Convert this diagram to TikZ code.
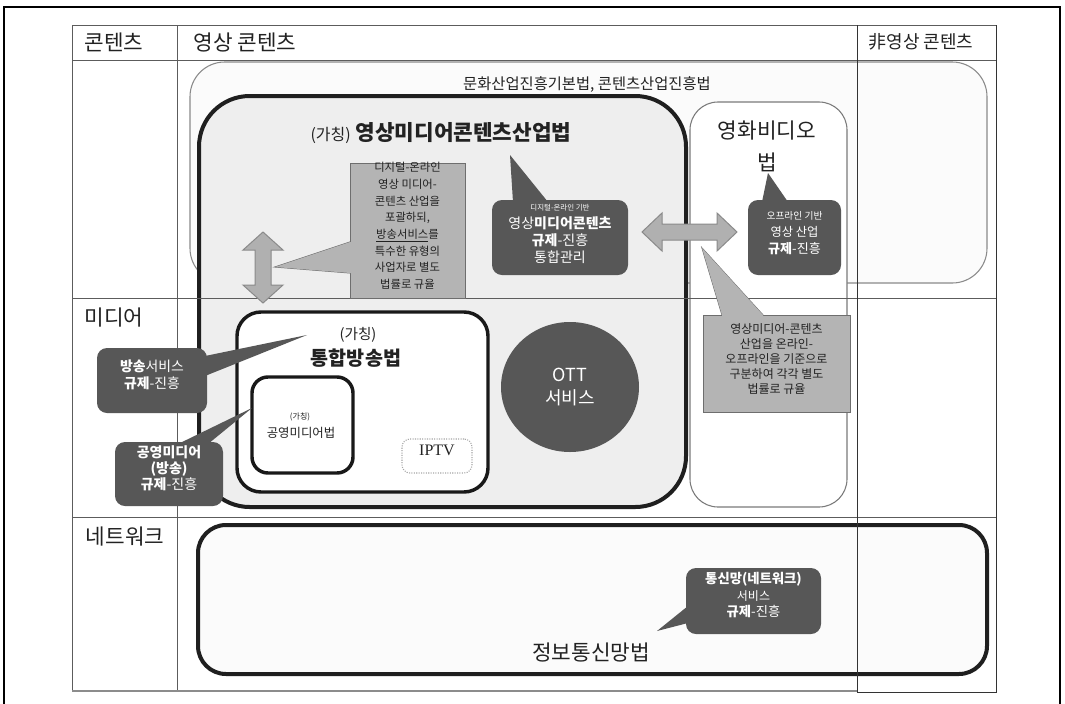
\documentclass[tikz,border=0pt]{standalone}
\usepackage{fontspec}
\setmainfont{Noto Sans CJK KR}
\newfontfamily\serifx{Liberation Serif}
\usetikzlibrary{fit,shapes.geometric}
\newcommand{\fsz}[2]{\fontsize{#1}{#2}\selectfont}
\definecolor{gridc}{HTML}{5C5C5C}
\definecolor{culb}{HTML}{8A8A8A}
\definecolor{culf}{HTML}{FBFBFB}
\definecolor{vmf}{HTML}{EEEEEE}
\definecolor{movb}{HTML}{7A7A7A}
\definecolor{darkf}{HTML}{575757}
\definecolor{grayf}{HTML}{B4B4B4}
\definecolor{grayb}{HTML}{6E6E6E}
\definecolor{arrf}{HTML}{B0B0B0}
\definecolor{arrb}{HTML}{8A8A8A}
\definecolor{txt}{HTML}{222222}
\begin{document}
\begin{tikzpicture}[x=0.75pt,y=-0.75pt,
  gridline/.style={draw=gridc, line width=0.75pt},
  boxbase/.style={inner sep=0pt, outer sep=0pt},
  culturebox/.style={boxbase, draw=culb, fill=culf, line width=0.8pt, rounded corners=26pt},
  thickbox/.style={boxbase, draw=black!88, fill=vmf, line width=3pt, rounded corners=38pt},
  moviebox/.style={boxbase, draw=movb, fill=white, line width=0.8pt, rounded corners=21pt},
  lawbox/.style={boxbase, draw=black!90, fill=white, line width=2.6pt, rounded corners=#1},
  netbox/.style={boxbase, draw=black!88, fill=culf, line width=3pt, rounded corners=21pt},
  iptvbox/.style={boxbase, draw=black!35, densely dotted, fill=white, line width=0.8pt, rounded corners=6pt, text=txt},
  hdr/.style={font=\fsz{16}{19}, text=txt, inner sep=0pt},
  grayco/.style={boxbase, draw=grayb, fill=grayf, line width=0.75pt, align=center, text=txt},
  darkco/.style={boxbase, fill=darkf, rounded corners=7.5pt, align=center, text=white},
  tailgray/.style={draw=grayb, fill=grayf, line width=0.75pt, line join=miter},
  taildark/.style={fill=darkf},
  dblarrow/.style={draw=arrb, fill=arrf, line width=0.75pt, line join=miter},
  ottc/.style={ellipse, fill=darkf, minimum width=103.5pt, minimum height=97.5pt, inner sep=0pt, align=center, text=white, font=\fsz{13.5}{17}}
]
\useasboundingbox (0,0) rectangle (1065,704);
\fill[white] (0,0) rectangle (1065,704);
% outer frame
\draw[line width=1.2pt] (4,710) -- (4,7) -- (1060,7) -- (1060,710);

% law boxes
\node[culturebox, fit={(190,62) (987,283)}] (culture) {};
\node[thickbox, fit={(199,96) (686,507)}] (vmcl) {};
\node[moviebox, fit={(690,102) (847,507)}] (movie) {};
\node[lawbox=18pt, fit={(237,312) (488,492)}] (bcast) {};
\node[lawbox=12pt, fit={(252,377) (353,473)}] (pubm) {};
\node[iptvbox, fit={(402,439) (472,473)}, font=\serifx\fsz{12}{14}] (iptv) {IPTV};
\node[netbox, fit={(198,525) (987,674)}] (net) {};

% table grid
\draw[gridline] (72,25) -- (996,25);
\draw[gridline] (72,60) -- (996,60);
\draw[gridline] (72,298) -- (996,298);
\draw[gridline] (72,517) -- (996,517);
\draw[gridline] (72,25) -- (72,691);
\draw[gridline] (177,25) -- (177,691);
\draw[draw=black!80, line width=0.75pt] (857,25) -- (857,692) -- (996,692) -- (996,25);
\draw[draw=black!45, line width=2.2pt] (72,691) -- (857,691);

% headers
\node[hdr] (hcont) at (114,42) {콘텐츠};
\node[hdr] (hvid) at (245,42) {영상 콘텐츠};
\node[font=\fsz{13.5}{16}, text=txt, inner sep=0pt] (hnon) at (921,42) {非영상 콘텐츠};
\node[hdr] (hmed) at (114,318) {미디어};
\node[hdr] (hnet) at (125,537) {네트워크};

% law titles
\node[font=\fsz{11.5}{14}, text=txt] (tcul) at (587,85) {문화산업진흥기본법, 콘텐츠산업진흥법};
\node[font=\fsz{16}{19}, text=txt] (tvm) at (441,133) {{\fsz{12}{14}(가칭)} \textbf{영상미디어콘텐츠산업법}};
\node[font=\fsz{16}{24}, text=txt, align=center] (tmov) at (767,146) {영화비디오\\법};
\node[font=\fsz{11}{13}, text=txt] (tbc1) at (358,335) {(가칭)};
\node[font=\fsz{14.7}{17}, text=txt] (tbc2) at (356,358) {\textbf{통합방송법}};
\node[font=\fsz{6}{7}, text=txt] (tpm1) at (300,417) {(가칭)};
\node[font=\fsz{9.3}{11}, text=txt] (tpm2) at (301,433) {공영미디어법};
\node[font=\fsz{16}{19}, text=txt] (tnet) at (591,652) {정보통신망법};

% OTT
\node[ottc] (ott) at (570,387) {OTT\\서비스};

% gray callout 1
\coordinate (g1tip) at (275,267);
\draw[tailgray] (g1tip) -- (350,242) -- (350,273) -- cycle;
\node[grayco, fit={(350,163) (465,298)}, font=\fsz{8.5}{12.5}] (gc1) {디지털-온라인\\영상 미디어-\\콘텐츠 산업을\\포괄하되,\\\underline{방송서비스}를\\특수한 유형의\\사업자로 별도\\법률로 규율};
\fill[grayf] (g1tip) -- (350,242) -- (352,242) -- (352,273) -- (350,273) -- cycle;

% gray callout 2
\coordinate (g2tip) at (702,248);
\draw[tailgray] (g2tip) -- (722,315) -- (763,315) -- cycle;
\node[grayco, fit={(703,315) (850,412)}, font=\fsz{9}{11.25}] (gc2) {영상미디어-콘텐츠\\산업을 온라인-\\오프라인을 기준으로\\구분하여 각각 별도\\법률로 규율};
\fill[grayf] (g2tip) -- (722,315) -- (722,317) -- (763,317) -- (763,315) -- cycle;

% dark callout: digital-online
\coordinate (d1tip) at (510,155);
\fill[taildark] (d1tip) -- (513,202) -- (548,202) -- cycle;
\node[darkco, fit={(492,200) (628,275)}, font=\fsz{10.5}{13}] (dc1) {{\fsz{5.6}{7}디지털-온라인 기반}\\영상\textbf{미디어콘텐츠}\\\textbf{규제}-진흥\\통합관리};

% dark callout: offline
\coordinate (d2tip) at (768,173);
\fill[taildark] (d2tip) -- (762,202) -- (788,202) -- cycle;
\node[darkco, fit={(748,200) (841,275)}, font=\fsz{9.8}{12.75}] (dc2) {{\fsz{7.3}{9}오프라인 기반}\\{\fsz{9.2}{11}영상 산업}\\\textbf{규제}-진흥};

% dark callout: broadcasting service
\coordinate (d3tip) at (307,335);
\fill[taildark] (d3tip) -- (205,356) -- (205,376) -- cycle;
\node[darkco, fit={(97,348) (207,413)}, font=\fsz{10.4}{12.75}] (dc3) {\textbf{방송}서비스\\\textbf{규제}-진흥};

% dark callout: public media
\coordinate (d4tip) at (252,408);
\fill[taildark] (d4tip) -- (178,444) -- (208,444) -- cycle;
\node[darkco, fit={(115,442) (223,506)}, font=\fsz{10.5}{12}] (dc4) {\textbf{공영미디어}\\\textbf{(방송)}\\\textbf{규제}-진흥};

% dark callout: network
\coordinate (d5tip) at (657,631);
\fill[taildark] (d5tip) -- (688,606) -- (688,623) -- cycle;
\node[darkco, fit={(686,568) (821,634)}, font=\fsz{10}{12.4}] (dc5) {\textbf{통신망(네트워크)}\\{\fsz{9}{11}서비스}\\\textbf{규제}-진흥};

% double arrows
\draw[dblarrow] (263,232) -- (283,250) -- (271,250) -- (271,285) -- (283,285) -- (263,303)
  -- (243,285) -- (255,285) -- (255,250) -- (243,250) -- cycle;
\draw[dblarrow] (642,232) -- (662,213) -- (662,224) -- (717,224) -- (717,213) -- (737,232)
  -- (717,251) -- (717,240) -- (662,240) -- (662,251) -- cycle;
\end{tikzpicture}
\end{document}
